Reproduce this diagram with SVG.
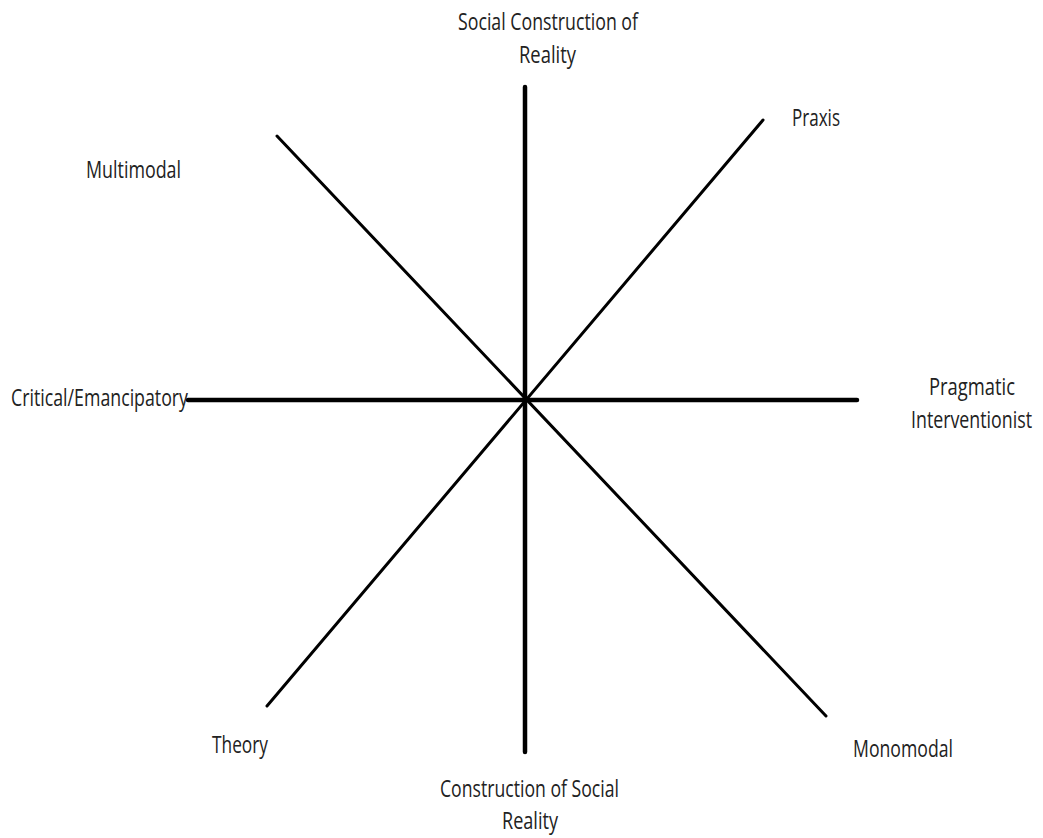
<svg xmlns="http://www.w3.org/2000/svg" width="1043" height="838" viewBox="0 0 1043 838">
<style>
.lbl{font-family:"Liberation Sans Narrow","Open Sans","Liberation Sans",sans-serif;font-size:23px;fill:#222}
.ax{stroke:#000;stroke-linecap:round;fill:none}
</style>
<rect width="1043" height="838" fill="#fff"/>
<g id="connectors">
<line class="ax" x1="525" y1="87" x2="525" y2="752" stroke-width="4.5"/>
<line class="ax" x1="188" y1="400" x2="857" y2="400" stroke-width="4.5"/>
<line class="ax" x1="277" y1="136" x2="826" y2="716" stroke-width="3"/>
<line class="ax" x1="267" y1="706" x2="763" y2="120" stroke-width="3"/>
</g>
<g id="n-social-construction">
<text class="lbl" x="458" y="30" textLength="180" lengthAdjust="spacingAndGlyphs">Social Construction of</text>
<text class="lbl" x="519" y="63" textLength="57" lengthAdjust="spacingAndGlyphs">Reality</text>
</g>
<g id="n-praxis"><text class="lbl" x="792" y="126" textLength="48" lengthAdjust="spacingAndGlyphs">Praxis</text></g>
<g id="n-multimodal"><text class="lbl" x="86" y="178" textLength="95" lengthAdjust="spacingAndGlyphs">Multimodal</text></g>
<g id="n-critical"><text class="lbl" x="11" y="406" textLength="177" lengthAdjust="spacingAndGlyphs">Critical/Emancipatory</text></g>
<g id="n-pragmatic">
<text class="lbl" x="929" y="395" textLength="86" lengthAdjust="spacingAndGlyphs">Pragmatic</text>
<text class="lbl" x="911" y="428" textLength="121" lengthAdjust="spacingAndGlyphs">Interventionist</text>
</g>
<g id="n-theory"><text class="lbl" x="212" y="753" textLength="56" lengthAdjust="spacingAndGlyphs">Theory</text></g>
<g id="n-monomodal"><text class="lbl" x="853" y="757" textLength="100" lengthAdjust="spacingAndGlyphs">Monomodal</text></g>
<g id="n-construction-social">
<text class="lbl" x="440" y="797" textLength="179" lengthAdjust="spacingAndGlyphs">Construction of Social</text>
<text class="lbl" x="502" y="829" textLength="56" lengthAdjust="spacingAndGlyphs">Reality</text>
</g>
</svg>
